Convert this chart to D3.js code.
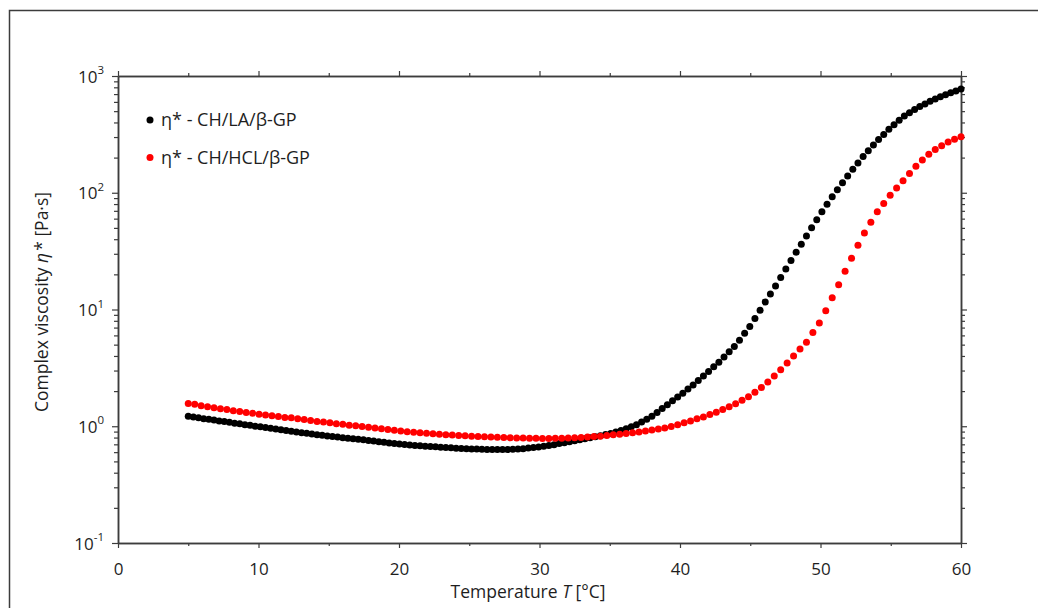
<!DOCTYPE html>
<html>
<head>
<meta charset="utf-8">
<script src="https://cdn.jsdelivr.net/npm/d3@7"></script>
<style>
    body { margin: 0; background: #fff; }
    svg text { font-family: "Open Sans", sans-serif; fill: #1e1e1e; }
</style>
</head>
<body>
<script>
// complex viscosity eta* [Pa·s], one value per measured point, heating 5 -> 60 °C
var viscLA = [
    1.22, 1.20, 1.18, 1.16, 1.15, 1.13, 1.11, 1.10, 1.08, 1.06,
    1.05, 1.03, 1.02, 1.00, 0.988, 0.974, 0.960, 0.946, 0.933, 0.920,
    0.906, 0.894, 0.881, 0.869, 0.858, 0.846, 0.836, 0.825, 0.816, 0.807,
    0.798, 0.790, 0.782, 0.774, 0.765, 0.756, 0.746, 0.737, 0.728, 0.719,
    0.711, 0.703, 0.697, 0.691, 0.685, 0.680, 0.675, 0.670, 0.666, 0.661,
    0.657, 0.653, 0.649, 0.646, 0.643, 0.640, 0.637, 0.634, 0.633, 0.632,
    0.631, 0.632, 0.632, 0.634, 0.639, 0.643, 0.650, 0.658, 0.665, 0.675,
    0.685, 0.696, 0.710, 0.724, 0.738, 0.752, 0.767, 0.782, 0.797, 0.811,
    0.829, 0.848, 0.868, 0.893, 0.919, 0.951, 0.990, 1.03, 1.09, 1.15,
    1.22, 1.31, 1.42, 1.53, 1.65, 1.78, 1.92, 2.08, 2.26, 2.46,
    2.69, 2.94, 3.23, 3.54, 3.91, 4.34, 4.82, 5.46, 6.25, 7.16,
    8.38, 9.84, 11.6, 13.6, 15.9, 18.8, 22.2, 26.3, 31.0, 36.3,
    42.7, 50.1, 58.8, 68.8, 79.7, 92.4, 106, 122, 139, 159,
    180, 204, 229, 256, 286, 316, 350, 383, 417, 454,
    484, 516, 548, 577, 607, 636, 663, 692, 719, 745,
    773
];

var viscHCL = [
    1.57, 1.54, 1.50, 1.47, 1.44, 1.41, 1.39, 1.36, 1.34, 1.31,
    1.29, 1.27, 1.25, 1.23, 1.21, 1.19, 1.18, 1.16, 1.14, 1.12,
    1.10, 1.09, 1.07, 1.05, 1.04, 1.02, 1.01, 0.996, 0.982, 0.967,
    0.952, 0.937, 0.923, 0.909, 0.899, 0.888, 0.879, 0.870, 0.861, 0.853,
    0.847, 0.840, 0.834, 0.828, 0.822, 0.817, 0.812, 0.808, 0.804, 0.800,
    0.797, 0.794, 0.792, 0.790, 0.788, 0.787, 0.787, 0.788, 0.790, 0.793,
    0.797, 0.801, 0.808, 0.815, 0.823, 0.833, 0.844, 0.855, 0.868, 0.880,
    0.894, 0.910, 0.927, 0.946, 0.965, 0.995, 1.03, 1.07, 1.11, 1.16,
    1.20, 1.26, 1.32, 1.39, 1.47, 1.56, 1.67, 1.79, 1.96, 2.15,
    2.39, 2.69, 3.04, 3.48, 3.99, 4.58, 5.25, 6.35, 7.67, 9.77,
    12.6, 16.3, 21.3, 27.5, 35.5, 45.2, 55.8, 68.6, 80.8, 95.2,
    110, 127, 146, 169, 191, 214, 235, 253, 272, 287,
    302
];

// both runs cover the same ramp, sampled evenly
var tempRange = [5, 60];

var xTicks = [0, 10, 20, 30, 40, 50, 60];
var xMinorTicks = [5, 15, 25, 35, 45, 55];
var yDecades = [-1, 0, 1, 2, 3];

var seriesNames = ["η* - CH/LA/β-GP", "η* - CH/HCL/β-GP"];
var seriesColors = ["#000000", "#ff0000"];

(function () {
    "use strict";

    var plot = {};
    plot.margin = {top: 76, right: 77, bottom: 65, left: 118};
    plot.outerWidth = 1038;
    plot.outerHeight = 608;
    plot.width = plot.outerWidth - plot.margin.left - plot.margin.right;
    plot.height = plot.outerHeight - plot.margin.top - plot.margin.bottom;

    var svg = d3.select("body")
            .append("svg")
            .attr("width", plot.outerWidth)
            .attr("height", plot.outerHeight);

    // frame round the figure (runs off the right and bottom edge)
    svg.append("rect")
            .attr("x", 9.5)
            .attr("y", 10.5)
            .attr("width", 1100)
            .attr("height", 700)
            .attr("fill", "none")
            .attr("stroke", "#3c3c3c")
            .attr("stroke-width", 1.5);

    plot.area = svg.append("g")
            .attr("transform", "translate(" + plot.margin.left + "," + plot.margin.top + ")");

    var x = d3.scaleLinear().domain([0, 60]).range([0, plot.width]);
    var y = d3.scaleLog().domain([0.1, 1000]).range([plot.height, 0]);

    var yMajor = yDecades.map(function (e) { return Math.pow(10, e); });
    var yMinor = [];
    yDecades.slice(0, -1).forEach(function (e) {
        for (var m = 2; m <= 9; m++) {
            yMinor.push(m * Math.pow(10, e));
        }
    });

    function styleAxis(g) {
        g.select(".domain").attr("stroke", "#3c3c3c").attr("stroke-width", 1.5);
        g.selectAll(".tick line").attr("stroke", "#3c3c3c").attr("stroke-width", 1.2);
    }

    // minor ticks first, majors on top
    var axes = [
        {axis: d3.axisBottom(x).tickValues(xMinorTicks).tickSize(3), at: [0, plot.height]},
        {axis: d3.axisTop(x).tickValues(xMinorTicks).tickSize(3), at: [0, 0]},
        {axis: d3.axisLeft(y).tickValues(yMinor).tickSize(4), at: [0, 0]},
        {axis: d3.axisRight(y).tickValues(yMinor).tickSize(4), at: [plot.width, 0]},
        {axis: d3.axisTop(x).tickValues(xTicks).tickSize(5), at: [0, 0]},
        {axis: d3.axisRight(y).tickValues(yMajor).tickSize(6), at: [plot.width, 0]}
    ];
    axes.forEach(function (a) {
        plot.area.append("g")
                .attr("transform", "translate(" + a.at[0] + "," + a.at[1] + ")")
                .call(a.axis.tickSizeOuter(0).tickFormat(""))
                .call(styleAxis);
    });

    // labelled axes
    var xAxis = plot.area.append("g")
            .attr("transform", "translate(0," + plot.height + ")")
            .call(d3.axisBottom(x).tickValues(xTicks).tickSize(5).tickSizeOuter(0).tickPadding(15))
            .call(styleAxis);
    xAxis.selectAll(".tick text")
            .attr("font-size", 17)
            .attr("font-family", null)
            .attr("fill", null);

    var yAxis = plot.area.append("g")
            .call(d3.axisLeft(y).tickValues(yMajor).tickSize(6).tickSizeOuter(0).tickFormat(""))
            .call(styleAxis);
    yAxis.selectAll(".tick").each(function (d) {
        var t = d3.select(this).append("text")
                .attr("x", -14)
                .attr("dy", "0.36em")
                .attr("text-anchor", "end")
                .attr("font-size", 17);
        t.append("tspan").text("10");
        t.append("tspan")
                .attr("font-size", 11.5)
                .attr("dy", "-0.75em")
                .text(Math.round(Math.log10(d)));
    });
    yAxis.select(".domain").raise();

    // data points
    [viscLA, viscHCL].forEach(function (values, s) {
        var step = (tempRange[1] - tempRange[0]) / (values.length - 1);
        plot.area.append("g")
                .selectAll("circle")
                .data(values)
                .enter()
                .append("circle")
                .attr("cx", function (d, i) { return x(tempRange[0] + i * step); })
                .attr("cy", function (d) { return y(d); })
                .attr("r", 3.5)
                .attr("fill", seriesColors[s]);
    });

    // legend
    var legend = plot.area.append("g")
            .attr("transform", "translate(32,44)");
    seriesNames.forEach(function (name, i) {
        var row = legend.append("g")
                .attr("transform", "translate(0," + (i * 37.5) + ")");
        row.append("circle")
                .attr("r", 3.5)
                .attr("fill", seriesColors[i]);
        row.append("text")
                .attr("x", 11)
                .attr("dy", "0.36em")
                .attr("font-size", 18)
                .text(name);
    });

    // axis titles
    var xTitle = svg.append("text")
            .attr("x", 528)
            .attr("y", 598)
            .attr("text-anchor", "middle")
            .attr("font-size", 17.5);
    xTitle.append("tspan").text("Temperature ");
    xTitle.append("tspan").attr("font-style", "italic").text("T");
    xTitle.append("tspan").text(" [°C]");

    var yTitle = svg.append("text")
            .attr("transform", "translate(48,302) rotate(-90)")
            .attr("text-anchor", "middle")
            .attr("font-size", 17.5);
    yTitle.append("tspan").text("Complex viscosity ");
    yTitle.append("tspan").attr("font-style", "italic").text("η");
    yTitle.append("tspan").attr("dx", 2).text("* [Pa·s]");

})();
</script>
</body>
</html>
